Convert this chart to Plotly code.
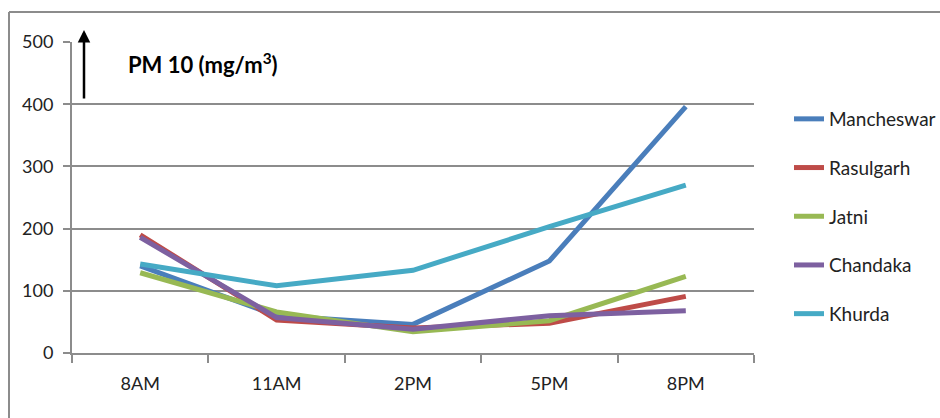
import plotly.graph_objects as go

# PM10 readings at five monitoring sites across the day
times = ["8AM", "11AM", "2PM", "5PM", "8PM"]
mancheswar = [140, 60, 46, 148, 396]
rasulgarh = [190, 53, 40, 48, 91]
jatni = [129, 66, 34, 52, 123]
chandaka = [186, 57, 38, 60, 68]
khurda = [143, 108, 133, 203, 270]

series = [
    ("Mancheswar", mancheswar, "#4A7EBB"),
    ("Rasulgarh", rasulgarh, "#BE4B48"),
    ("Jatni", jatni, "#98B954"),
    ("Chandaka", chandaka, "#7D60A0"),
    ("Khurda", khurda, "#46AAC5"),
]
y_ticks = [0, 100, 200, 300, 400, 500]

FONT = "Lato"
GRID = "#8c8c8c"
TXT = "#222222"

fig = go.Figure()
for name, vals, color in series:
    fig.add_trace(go.Scatter(
        x=times, y=vals, name=name, mode="lines",
        line=dict(color=color, width=5),
        legendgroup=name,
    ))

# plot area geometry in pixels (for placing paper-referenced decorations)
W, H = 940, 418
ml, mr, mt, mb = 72, 186, 42, 65
pw, ph = W - ml - mr, H - mt - mb

def px_x(x):
    return (x - ml) / pw

def px_y(y):
    return 1 + (mt - y) / ph

fig.update_layout(
    width=W, height=H,
    margin=dict(l=ml, r=mr, t=mt, b=mb, autoexpand=False),
    paper_bgcolor="white", plot_bgcolor="white",
    font=dict(family=FONT, size=18, color=TXT),
    showlegend=True,
    legend=dict(
        x=px_x(789), y=px_y(100), xanchor="left", yanchor="top",
        traceorder="grouped", tracegroupgap=21,
        font=dict(family=FONT, size=19, color=TXT),
        bgcolor="rgba(0,0,0,0)",
    ),
    xaxis=dict(
        type="category", range=[-0.5, 4.5],
        showgrid=False, showline=True,
        linecolor=GRID, linewidth=2,
        ticks="outside", tickson="boundaries", ticklen=8,
        tickcolor=GRID, tickwidth=2,
        tickfont=dict(family=FONT, size=18, color=TXT),
        ticklabelstandoff=13,
        zeroline=False,
    ),
    yaxis=dict(
        range=[0, 500], tickvals=y_ticks,
        showgrid=True, gridcolor=GRID, gridwidth=2,
        showline=True, linecolor=GRID, linewidth=2,
        ticks="outside", ticklen=7, tickcolor=GRID, tickwidth=2,
        tickfont=dict(family=FONT, size=18, color=TXT),
        zeroline=False, ticklabelstandoff=6,
    ),
)

# outer frame (top and left edges)
frame = dict(color="#8c8c8c", width=2)
fig.add_shape(type="line", xref="paper", yref="paper",
              x0=px_x(9), x1=px_x(W + 5), y0=px_y(12), y1=px_y(12), line=frame)
fig.add_shape(type="line", xref="paper", yref="paper",
              x0=px_x(9), x1=px_x(9), y0=px_y(12), y1=px_y(H + 5), line=frame)

# upward arrow beside the y axis
fig.add_annotation(
    xref="paper", yref="paper", x=px_x(84), y=px_y(30),
    axref="pixel", ayref="pixel", ax=0, ay=70,
    showarrow=True, arrowhead=2, arrowsize=1, arrowwidth=2.5,
    arrowcolor="black", text="",
)

# quantity label
fig.add_annotation(
    xref="paper", yref="paper", x=px_x(126), y=px_y(64),
    xanchor="left", yanchor="middle", showarrow=False,
    text="<b>PM 10 (mg/m<sup>3</sup>)</b>",
    font=dict(family=FONT, size=22, color="black"),
)

fig.write_html("out.html")
